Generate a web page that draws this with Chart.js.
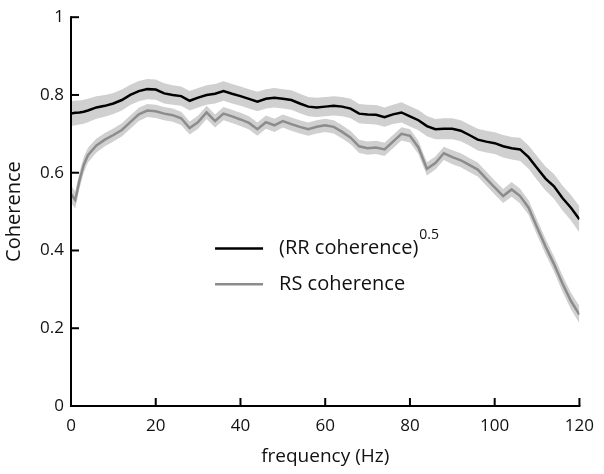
<!DOCTYPE html>
<html>
<head>
<meta charset="utf-8">
<script src="https://cdn.jsdelivr.net/npm/chart.js@4"></script>
<style>
  html, body { margin: 0; padding: 0; background: #fff; }
  #wrap { width: 604px; height: 474px; }
</style>
</head>
<body>
<div id="wrap"><canvas id="chart-1" width="604" height="474"></canvas></div>
<script>
// donnees
const freq = [0, 1, 2, 3, 4, 6, 8, 10, 12, 14, 16, 18, 20, 22, 24, 26, 28, 30, 32, 34, 36, 38, 40,
  42, 44, 46, 48, 50, 52, 54, 56, 58, 60, 62, 64, 66, 68, 70, 72, 74, 76, 78, 80,
  82, 84, 86, 88, 90, 92, 94, 96, 98, 100, 102, 104, 106, 108, 110, 112, 114, 116, 118, 120];

const rrCoh = [0.752, 0.754, 0.755, 0.757, 0.760, 0.768, 0.772, 0.778, 0.787, 0.800, 0.810, 0.815, 0.814,
  0.804, 0.800, 0.797, 0.785, 0.793, 0.800, 0.803, 0.810, 0.803, 0.797,
  0.790, 0.783, 0.790, 0.793, 0.790, 0.787, 0.778, 0.770, 0.768, 0.770, 0.772, 0.770,
  0.765, 0.752, 0.750, 0.749, 0.743, 0.750, 0.755, 0.745,
  0.735, 0.720, 0.712, 0.713, 0.713, 0.708, 0.697, 0.685, 0.680, 0.676, 0.668, 0.663,
  0.660, 0.640, 0.612, 0.585, 0.565, 0.535, 0.510, 0.480];

const rsCoh = [0.545, 0.530, 0.580, 0.620, 0.645, 0.670, 0.685, 0.697, 0.710, 0.730, 0.750, 0.760, 0.758,
  0.752, 0.748, 0.740, 0.715, 0.730, 0.755, 0.733, 0.752, 0.745, 0.737,
  0.728, 0.712, 0.730, 0.722, 0.733, 0.725, 0.718, 0.712, 0.718, 0.722, 0.718, 0.705,
  0.690, 0.668, 0.663, 0.665, 0.660, 0.680, 0.700, 0.695,
  0.665, 0.610, 0.625, 0.650, 0.640, 0.632, 0.620, 0.608, 0.585, 0.562, 0.540, 0.557,
  0.540, 0.510, 0.460, 0.410, 0.365, 0.315, 0.270, 0.235];

// demi-largeur des bandes grises
const rrErr = [0.032, 0.032, 0.031, 0.031, 0.030, 0.029, 0.028, 0.027, 0.027, 0.026, 0.026, 0.026, 0.026,
  0.026, 0.025, 0.025, 0.025, 0.025, 0.025, 0.025, 0.025, 0.025, 0.025,
  0.025, 0.025, 0.025, 0.025, 0.025, 0.025, 0.025, 0.025, 0.025, 0.025, 0.025, 0.025,
  0.025, 0.025, 0.025, 0.025, 0.025, 0.025, 0.026, 0.026,
  0.026, 0.026, 0.026, 0.027, 0.027, 0.027, 0.027, 0.028, 0.028, 0.028, 0.029, 0.029,
  0.030, 0.030, 0.031, 0.031, 0.032, 0.032, 0.033, 0.034];

const rsErr = [0.022, 0.022, 0.021, 0.020, 0.019, 0.018, 0.017, 0.017, 0.017, 0.017, 0.017, 0.017, 0.017,
  0.017, 0.017, 0.017, 0.017, 0.017, 0.017, 0.017, 0.017, 0.017, 0.017,
  0.017, 0.017, 0.017, 0.017, 0.017, 0.017, 0.017, 0.017, 0.017, 0.017, 0.017, 0.017,
  0.017, 0.017, 0.017, 0.017, 0.017, 0.017, 0.017, 0.017,
  0.017, 0.017, 0.017, 0.017, 0.018, 0.018, 0.018, 0.018, 0.018, 0.018, 0.018, 0.019,
  0.019, 0.019, 0.020, 0.020, 0.020, 0.021, 0.021, 0.022];

const xTicks = [0, 20, 40, 60, 80, 100, 120];
const yTicks = [0, 0.2, 0.4, 0.6, 0.8, 1];
const yTickLabels = ['0', '0.2', '0.4', '0.6', '0.8', '1'];

const bandColor = 'rgb(208,208,208)';
const fontFam = '"Open Sans", "Noto Sans", sans-serif';

function pts(ys, err, sign) {
  return freq.map((f, i) => ({ x: f, y: ys[i] + sign * (err ? err[i] : 0) }));
}

function bandSet(ys, err, sign, fill) {
  return {
    data: pts(ys, err, sign),
    borderWidth: 0,
    borderColor: 'rgba(0,0,0,0)',
    backgroundColor: bandColor,
    pointRadius: 0,
    fill: fill,
    tension: 0,
    order: 2
  };
}

// ticks vers l'interieur + legende avec exposant
const axesPlugin = {
  id: 'axesPlugin',
  afterDraw(chart) {
    const c = chart.ctx;
    const xs = chart.scales.x, ys = chart.scales.y;
    const area = chart.chartArea;
    c.save();
    c.strokeStyle = '#000';
    c.lineWidth = 2;
    c.beginPath();
    c.moveTo(area.left, ys.getPixelForValue(1) - 1);
    c.lineTo(area.left, area.bottom);
    c.lineTo(xs.getPixelForValue(120) + 1, area.bottom);
    c.stroke();
    xTicks.forEach(v => {
      const px = xs.getPixelForValue(v);
      c.beginPath(); c.moveTo(px, area.bottom); c.lineTo(px, area.bottom - 8); c.stroke();
    });
    yTicks.forEach(v => {
      const py = ys.getPixelForValue(v);
      c.beginPath(); c.moveTo(area.left, py); c.lineTo(area.left + 8, py); c.stroke();
    });

    // legende
    const lx = xs.getPixelForValue(34);
    const l1 = ys.getPixelForValue(0.405);
    const l2 = ys.getPixelForValue(0.313);
    c.lineWidth = 2.5;
    c.strokeStyle = '#000';
    c.beginPath(); c.moveTo(lx, l1); c.lineTo(lx + 48, l1); c.stroke();
    c.strokeStyle = '#8c8c8c';
    c.beginPath(); c.moveTo(lx, l2); c.lineTo(lx + 48, l2); c.stroke();
    c.fillStyle = '#111';
    c.textBaseline = 'middle';
    c.font = '20px ' + fontFam;
    const lab1 = chart.data.datasets[4].label;
    c.fillText(lab1, lx + 64, l1);
    const w = c.measureText(lab1).width;
    c.font = '14px ' + fontFam;
    c.fillText('0.5', lx + 64 + w + 1, l1 - 14);
    c.font = '20px ' + fontFam;
    c.fillText(chart.data.datasets[5].label, lx + 64, l2);
    c.restore();
  }
};

const ctx = document.getElementById('chart-1');
new Chart(ctx, {
  type: 'line',
  data: {
    datasets: [
      bandSet(rrCoh, rrErr, 1, false),
      bandSet(rrCoh, rrErr, -1, '-1'),
      bandSet(rsCoh, rsErr, 1, false),
      bandSet(rsCoh, rsErr, -1, '-1'),
      {
        label: '(RR coherence)',
        data: pts(rrCoh, null, 0),
        borderColor: '#000',
        borderWidth: 2.5,
        pointRadius: 0,
        fill: false,
        tension: 0,
        order: 0
      },
      {
        label: 'RS coherence',
        data: pts(rsCoh, null, 0),
        borderColor: '#8c8c8c',
        borderWidth: 2.5,
        pointRadius: 0,
        fill: false,
        tension: 0,
        order: 1
      }
    ]
  },
  options: {
    responsive: false,
    animation: false,
    layout: { padding: { top: 14, right: 22, left: 0, bottom: 0 } },
    plugins: {
      legend: { display: false },
      tooltip: { enabled: false }
    },
    scales: {
      x: {
        type: 'linear',
        min: 0,
        max: 120,
        afterBuildTicks: s => { s.ticks = xTicks.map(v => ({ value: v })); },
        afterFit: s => { s.height = 68; },
        grid: { display: false, drawTicks: false },
        border: { display: false },
        ticks: { color: '#111', padding: 10, font: { family: fontFam, size: 17 }, maxRotation: 0 },
        title: {
          display: true,
          text: 'frequency (Hz)',
          color: '#111',
          font: { family: fontFam, size: 19 },
          padding: { top: 0, bottom: 6 }
        }
      },
      y: {
        min: 0,
        max: 1,
        afterBuildTicks: s => { s.ticks = yTicks.map(v => ({ value: v })); },
        afterFit: s => { s.width = 71; },
        grid: { display: false, drawTicks: false },
        border: { display: false },
        ticks: {
          color: '#111',
          padding: 7,
          font: { family: fontFam, size: 17 },
          callback: (v) => yTickLabels[yTicks.indexOf(Math.round(v * 10) / 10)]
        },
        title: {
          display: true,
          text: 'Coherence',
          color: '#111',
          font: { family: fontFam, size: 20 },
          padding: { top: 2, bottom: 4 }
        }
      }
    }
  },
  plugins: [axesPlugin]
});
</script>
</body>
</html>
